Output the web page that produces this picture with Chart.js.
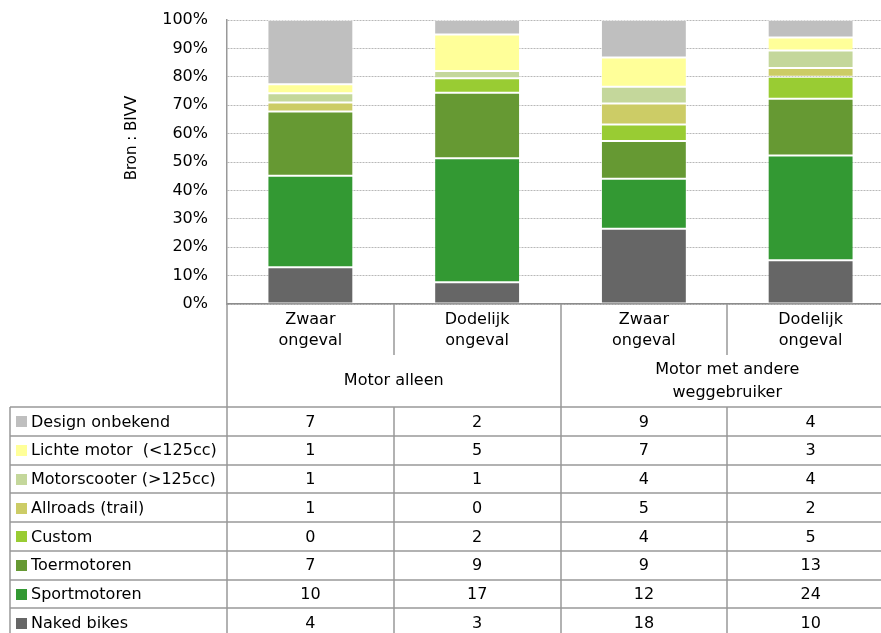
<!DOCTYPE html>
<html>
<head>
<meta charset="utf-8">
<script src="https://cdn.jsdelivr.net/npm/chart.js@4/dist/chart.umd.min.js"></script>
<style>
  html, body { margin: 0; padding: 0; background: #fff; overflow: hidden; width: 881px; height: 633px; }
  canvas { display: block; }
</style>
</head>
<body>
<canvas id="c" width="900" height="633"></canvas>
<script>
// Column labels (two lines each) and the group headers below them
const categories = [['Zwaar', 'ongeval'], ['Dodelijk', 'ongeval'], ['Zwaar', 'ongeval'], ['Dodelijk', 'ongeval']];
const groupLabels = [['Motor alleen'], ['Motor met andere', 'weggebruiker']];
const groupSpans = [2, 2];

// Y axis
const yTickStep = 10;
const yMax = 100;
const yTitle = 'Bron : BIVV';

// Counts per motorcycle type, one value per column
const designOnbekend = [7, 2, 9, 4];
const lichteMotor    = [1, 5, 7, 3];
const motorscooter   = [1, 1, 4, 4];
const allroads       = [1, 0, 5, 2];
const custom         = [0, 2, 4, 5];
const toermotoren    = [7, 9, 9, 13];
const sportmotoren   = [10, 17, 12, 24];
const nakedBikes     = [4, 3, 18, 10];

// Stack order, bottom to top
const series = [
  { name: 'Naked bikes',            values: nakedBikes,     color: '#666666' },
  { name: 'Sportmotoren',           values: sportmotoren,   color: '#339933' },
  { name: 'Toermotoren',            values: toermotoren,    color: '#669933' },
  { name: 'Custom',                 values: custom,         color: '#99CC33' },
  { name: 'Allroads (trail)',       values: allroads,       color: '#CCCC66' },
  { name: 'Motorscooter (>125cc)',  values: motorscooter,   color: '#C4D79B' },
  { name: 'Lichte motor  (<125cc)', values: lichteMotor,    color: '#FFFF99' },
  { name: 'Design onbekend',        values: designOnbekend, color: '#BFBFBF' }
];

const totals = categories.map((_, i) => series.reduce((s, d) => s + d.values[i], 0));

const FONT = '"DejaVu Sans", Verdana, sans-serif';
const LINE = '#999999';

// Data table, column headers and axis title drawn under the plot
const tablePlugin = {
  id: 'dataTable',
  afterDraw(chart) {
    const ctx = chart.ctx;
    const xs = chart.scales.x;
    const area = chart.chartArea;
    const n = categories.length;
    const colW = (xs.right - xs.left) / n;
    const edges = [];
    for (let i = 0; i < n; i++) edges.push(xs.getPixelForValue(i) - colW / 2);
    edges.push(xs.right);

    const axisY = area.bottom;
    const headerSplit = axisY + 51;
    const tableTop = axisY + 103;
    const rowH = 28.75;
    const tableLeft = 10;
    const bottom = chart.height + 10;
    const px = v => Math.round(v);

    ctx.save();
    ctx.strokeStyle = LINE;
    ctx.lineWidth = 1.5;

    const line = (x1, y1, x2, y2) => { ctx.beginPath(); ctx.moveTo(x1, y1); ctx.lineTo(x2, y2); ctx.stroke(); };
    let gEdge = 0;
    const groupEdges = [0];
    groupSpans.forEach(s => { gEdge += s; groupEdges.push(gEdge); });

    // vertical lines
    edges.forEach((e, i) => {
      if (groupEdges.includes(i)) {
        line(px(e), axisY, px(e), bottom);
      } else {
        line(px(e), axisY, px(e), headerSplit);
        line(px(e), tableTop, px(e), bottom);
      }
    });
    line(px(tableLeft), tableTop, px(tableLeft), bottom);

    // horizontal row lines
    const rows = series.slice().reverse();
    for (let r = 0; r <= rows.length; r++) {
      const y = px(tableTop + r * rowH);
      line(tableLeft, y, chart.width, y);
    }

    ctx.fillStyle = '#000';
    ctx.font = '16px ' + FONT;
    ctx.textBaseline = 'middle';

    // column labels
    ctx.textAlign = 'center';
    categories.forEach((lbl, i) => {
      const cx = xs.getPixelForValue(i);
      lbl.forEach((t, k) => ctx.fillText(t, cx, axisY + 16 + k * 21));
    });

    // group labels
    let start = 0;
    groupLabels.forEach((lbl, g) => {
      const cx = (edges[start] + edges[start + groupSpans[g]]) / 2;
      const mid = axisY + 77;
      const y0 = mid - (lbl.length - 1) * 11.5;
      lbl.forEach((t, k) => ctx.fillText(t, cx, y0 + k * 23));
      start += groupSpans[g];
    });

    // table rows: swatch, name, values
    rows.forEach((s, r) => {
      const cy = tableTop + r * rowH + rowH / 2;
      ctx.fillStyle = s.color;
      ctx.fillRect(16, Math.round(cy - 5), 11, 11);
      ctx.fillStyle = '#000';
      ctx.textAlign = 'left';
      ctx.fillText(s.name, 31, cy + 1);
      ctx.textAlign = 'center';
      s.values.forEach((v, i) => ctx.fillText(String(v), xs.getPixelForValue(i), cy + 1));
    });

    // axis title
    ctx.font = '15px ' + FONT;
    ctx.translate(132, 138);
    ctx.rotate(-Math.PI / 2);
    ctx.textAlign = 'center';
    ctx.fillText(yTitle, 0, 0);
    ctx.restore();
  }
};

new Chart(document.getElementById('c'), {
  type: 'bar',
  data: {
    labels: categories.map(c => c.join(' ')),
    datasets: series.map(s => ({
      label: s.name,
      data: s.values.map((v, i) => v / totals[i] * 100),
      backgroundColor: s.color,
      borderColor: 'rgba(255,255,255,0.4)',
      borderWidth: 1,
      borderSkipped: false,
      categoryPercentage: 1,
      barPercentage: 0.515
    }))
  },
  options: {
    responsive: false,
    devicePixelRatio: 1,
    animation: false,
    layout: { padding: { left: 0, top: 20, right: 6, bottom: 329 } },
    plugins: { legend: { display: false }, tooltip: { enabled: false } },
    scales: {
      x: {
        stacked: true,
        afterFit: s => { s.height = 0; },
        ticks: { display: false },
        grid: { display: false, drawTicks: false },
        border: { display: true, color: '#8C8C8C', width: 1.5 }
      },
      y: {
        stacked: true,
        min: 0,
        max: yMax,
        afterFit: s => { s.width = 227; s.paddingTop = 0; s.paddingBottom = 0; },
        ticks: {
          stepSize: yTickStep,
          padding: 19,
          color: '#000',
          font: { family: FONT, size: 16 },
          callback: v => v + '%'
        },
        grid: { color: '#B8B8B8', drawTicks: false },
        border: { display: true, color: '#999999', width: 1.5, dash: [2, 1] }
      }
    }
  },
  plugins: [tablePlugin]
});
</script>
</body>
</html>
